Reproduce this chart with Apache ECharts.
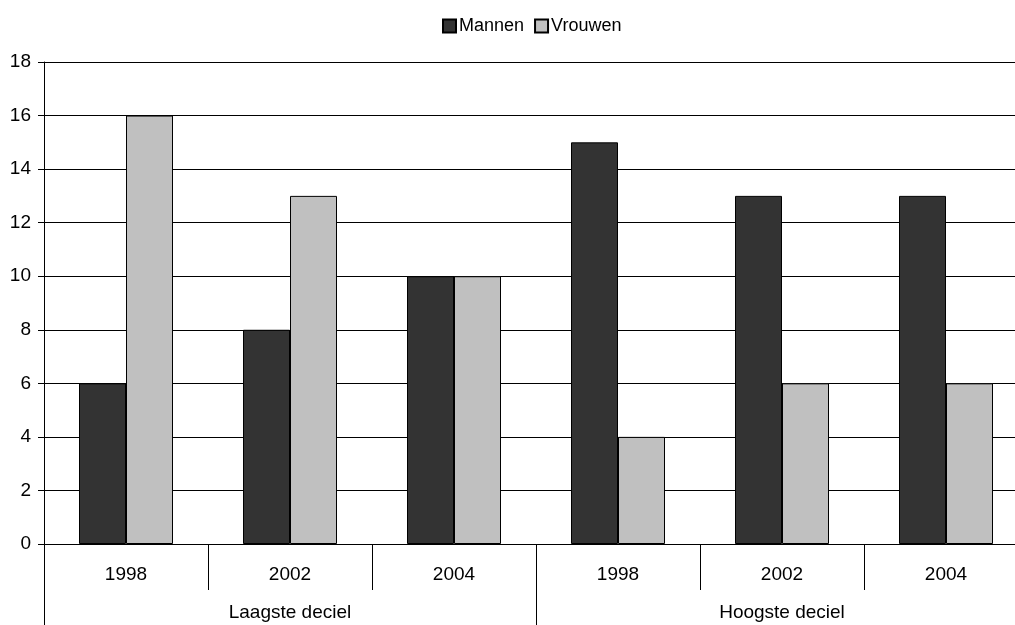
<!DOCTYPE html>
<html>
<head>
<meta charset="utf-8">
<script src="https://cdn.jsdelivr.net/npm/echarts@6/dist/echarts.min.js"></script>
<style>
  html, body { margin: 0; padding: 0; background: #fff; }
  #chart { width: 1015px; height: 625px; }
</style>
</head>
<body>
<div id="chart"></div>
<script>
// data
var years = ['1998', '2002', '2004', '1998', '2002', '2004'];
var groups = ['Laagste deciel', 'Hoogste deciel'];
var mannen = [6, 8, 10, 15, 13, 13];
var vrouwen = [16, 13, 10, 4, 6, 6];

var chart = echarts.init(document.getElementById('chart'));
var font = 'Liberation Sans, Arial, sans-serif';

var option = {
  animation: false,
  backgroundColor: '#fff',
  textStyle: { fontFamily: font },
  legend: {
    data: ['Mannen', 'Vrouwen'],
    left: 437,
    top: 12,
    itemWidth: 13,
    itemHeight: 13,
    itemGap: 10,
    icon: 'rect',
    textStyle: { fontFamily: font, fontSize: 18, color: '#000', padding: [0, 0, 0, -2] }
  },
  // plot area runs past the right edge of the picture (cropped)
  grid: { left: 44, top: 62, width: 984, bottom: 81, containLabel: false, outerBoundsMode: 'none' },
  xAxis: [
    {
      type: 'category',
      data: years,
      position: 'bottom',
      axisLine: { show: true, lineStyle: { color: '#000', width: 1 } },
      axisTick: { show: true, interval: 0, length: 46, lineStyle: { color: '#000' } },
      axisLabel: { interval: 0, margin: 21, fontSize: 19, color: '#000', fontFamily: font },
      splitLine: { show: false }
    },
    {
      type: 'category',
      data: groups,
      position: 'bottom',
      axisLine: { show: false },
      axisTick: { show: true, interval: 0, length: 81, lineStyle: { color: '#000' } },
      axisLabel: { interval: 0, margin: 59, fontSize: 19, color: '#000', fontFamily: font },
      splitLine: { show: false }
    }
  ],
  yAxis: {
    type: 'value',
    min: 0,
    max: 18,
    interval: 2,
    axisLine: { show: true, lineStyle: { color: '#000', width: 1 } },
    axisTick: { show: true, length: 6, lineStyle: { color: '#000' } },
    axisLabel: { margin: 13, fontSize: 19, color: '#000', fontFamily: font },
    splitLine: { show: true, lineStyle: { color: '#000', width: 1 } }
  },
  series: [
    {
      name: 'Mannen',
      type: 'bar',
      xAxisIndex: 0,
      data: mannen,
      barWidth: 47,
      barGap: '0%',
      itemStyle: { color: '#333333', borderColor: '#000', borderWidth: 1 }
    },
    {
      name: 'Vrouwen',
      type: 'bar',
      xAxisIndex: 0,
      data: vrouwen,
      barWidth: 47,
      barGap: '0%',
      itemStyle: { color: '#c0c0c0', borderColor: '#000', borderWidth: 1 }
    }
  ]
};

chart.setOption(option);
</script>
</body>
</html>
